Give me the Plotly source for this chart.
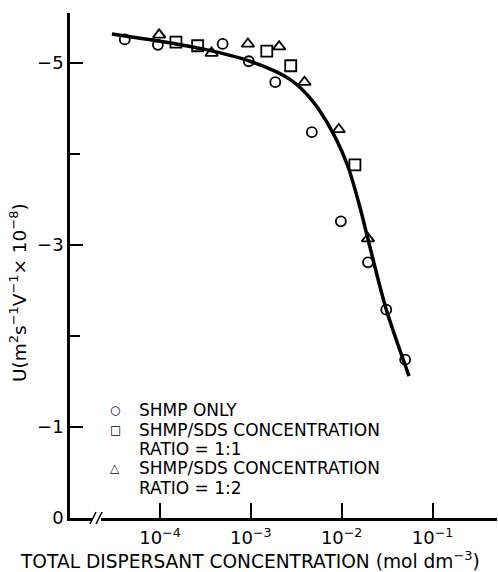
import plotly.graph_objects as go

# ---- data ----
shmp_x = [4.1e-5, 9.5e-5, 4.9e-4, 9.5e-4, 1.86e-3, 4.7e-3, 9.8e-3, 1.95e-2, 3.1e-2, 5.0e-2]
shmp_y = [-5.26, -5.20, -5.21, -5.02, -4.79, -4.24, -3.26, -2.81, -2.29, -1.74]

r11_x = [1.5e-4, 2.6e-4, 1.5e-3, 2.75e-3, 1.4e-2]
r11_y = [-5.23, -5.19, -5.13, -4.97, -3.88]

r12_x = [9.8e-5, 3.7e-4, 9.3e-4, 2.05e-3, 3.9e-3, 9.3e-3, 1.95e-2]
r12_y = [-5.31, -5.11, -5.21, -5.18, -4.79, -4.27, -3.07]

fit_x = [2.96e-5, 1.0e-4, 3.13e-4, 9.8e-4, 2.70e-3, 4.72e-3, 8.04e-3, 1.175e-2, 1.596e-2, 1.954e-2, 3.08e-2, 5.52e-2]
fit_y = [-5.32, -5.24, -5.15, -5.02, -4.82, -4.59, -4.23, -3.86, -3.41, -3.06, -2.30, -1.56]

x_tick_vals = [1e-4, 1e-3, 1e-2, 1e-1]
x_tick_text = ["10<sup>−4</sup>", "10<sup>−3</sup>", "10<sup>−2</sup>", "10<sup>−1</sup>"]
y_tick_vals = [-5, -3, -1, 0]
y_tick_text = ["−5", "−3", "−1", "0"]
y_minor_vals = [-4, -2]

legend_symbols = ["○", "□", "△"]
legend_lines = ["SHMP ONLY", "SHMP/SDS CONCENTRATION", "RATIO = 1:1", "SHMP/SDS CONCENTRATION", "RATIO = 1:2"]

FONT = "DejaVu Sans"
fig = go.Figure()

fig.add_trace(go.Scatter(x=fit_x, y=fit_y, mode="lines",
                         line=dict(color="black", width=3.5, shape="spline", smoothing=0.8),
                         showlegend=False, hoverinfo="skip"))
fig.add_trace(go.Scatter(x=shmp_x, y=shmp_y, mode="markers", name="SHMP ONLY", showlegend=False,
                         marker=dict(symbol="circle-open", size=10, color="black", line=dict(width=1.8))))
fig.add_trace(go.Scatter(x=r11_x, y=r11_y, mode="markers", name="SHMP/SDS 1:1", showlegend=False,
                         marker=dict(symbol="square-open", size=11, color="black", line=dict(width=1.8))))
fig.add_trace(go.Scatter(x=r12_x, y=r12_y, mode="markers", name="SHMP/SDS 1:2", showlegend=False,
                         marker=dict(symbol="triangle-up-open", size=11, color="black", line=dict(width=1.8))))

fig.update_layout(
    width=498, height=572,
    margin=dict(l=70, r=1, t=13, b=54),
    paper_bgcolor="white", plot_bgcolor="white",
    font=dict(family=FONT, size=18, color="black"),
    showlegend=False,
    xaxis=dict(type="log", range=[-4.99, -0.29], showgrid=False, zeroline=False,
               showline=True, linecolor="black", linewidth=2.5,
               tickmode="array", tickvals=x_tick_vals, ticktext=x_tick_text,
               ticks="inside", ticklen=15, tickwidth=2, tickcolor="black",
               ticklabelstandoff=2,
               tickfont=dict(family=FONT, size=18)),
    yaxis=dict(range=[0, -5.55], showgrid=False, zeroline=False,
               showline=True, linecolor="black", linewidth=2.5,
               tickmode="array", tickvals=y_tick_vals, ticktext=y_tick_text,
               ticks="inside", ticklen=13, tickwidth=2, tickcolor="black",
               tickfont=dict(family=FONT, size=18),
               minor=dict(tickvals=y_minor_vals, ticks="inside", ticklen=10, tickwidth=2, tickcolor="black")),
)

def px2paper(px, py):
    return (px - 70) / 427, (518 - py) / 505

# axis titles
tx, ty = px2paper(250, 560)
fig.add_annotation(text="TOTAL DISPERSANT CONCENTRATION (mol dm<sup>−3</sup>)", xref="paper", yref="paper",
                   x=tx, y=ty, xanchor="center", yanchor="middle", showarrow=False,
                   font=dict(family=FONT, size=18.6))
tx, ty = px2paper(18, 293)
fig.add_annotation(text="U(m<sup>2</sup>s<sup>−1</sup>V<sup>−1</sup>× 10<sup>−8</sup>)", xref="paper", yref="paper",
                   x=tx, y=ty, xanchor="center", yanchor="middle", textangle=-90, showarrow=False,
                   font=dict(family=FONT, size=18.5))

# legend (drawn inside the plot as text)
line_py = [410, 429.5, 448.5, 468, 487.5]
for txt, py in zip(legend_lines, line_py):
    lx, ly = px2paper(137, py)
    fig.add_annotation(text=txt, xref="paper", yref="paper", x=lx, y=ly, xanchor="left", yanchor="middle",
                       showarrow=False, font=dict(family=FONT, size=17))
sym_py = [409.5, 429.5, 467.5]
for s, py in zip(legend_symbols, sym_py):
    lx, ly = px2paper(115, py)
    fig.add_annotation(text=s, xref="paper", yref="paper", x=lx, y=ly, xanchor="center", yanchor="middle",
                       showarrow=False, font=dict(family=FONT, size=12))

# axis break mark
fig.add_shape(type="rect", xref="paper", yref="paper", x0=(92 - 70) / 427, x1=(101 - 70) / 427,
              y0=-0.01, y1=0.01, fillcolor="white", line=dict(width=0))
for dx in (0, 6):
    fig.add_shape(type="line", xref="paper", yref="paper",
                  x0=(90 + dx - 70) / 427, y0=-6 / 505, x1=(96 + dx - 70) / 427, y1=6 / 505,
                  line=dict(color="black", width=1.5))

fig.write_html("out.html")
